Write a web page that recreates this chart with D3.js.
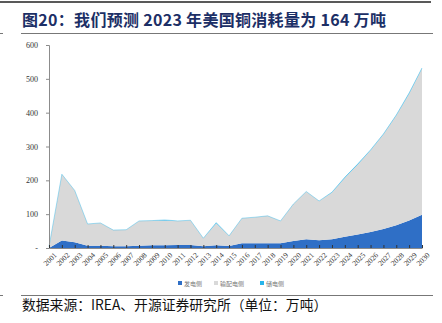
<!DOCTYPE html>
<html>
<head>
<meta charset="utf-8">
<script src="https://cdn.jsdelivr.net/npm/d3@7/dist/d3.min.js"></script>
<style>
  html, body { margin: 0; padding: 0; background: #fff; }
  svg { display: block; }
</style>
</head>
<body>
<svg id="chart" width="442" height="323"></svg>
<script>
// US copper consumption by segment (10k tonnes)
const years = d3.range(2001, 2031).map(String);
const generation = [0, 22, 17, 7, 7, 5, 5, 7, 8, 8, 9, 9, 5, 8, 6, 14, 14, 14, 14, 21, 26, 23, 26, 33, 40, 47, 56, 67, 81, 98];
const distribution = [4, 196, 153, 64, 67, 48, 49, 73, 73, 73, 71, 73, 24, 65, 30, 74, 77, 81, 66, 109, 141, 116, 138, 175, 207, 242, 280, 325, 376, 433];
const storage = [0, 0, 0, 0, 0, 0, 0, 0, 0, 2, 0, 0, 0, 2, 0, 0, 0, 0, 0, 0, 0, 0, 1, 1, 1, 1, 1, 1, 1, 1];
const seriesNames = ["发电侧", "输配电侧", "储电侧"];
const seriesColors = ["#2f6fc6", "#d9d9d9", "#27b4ea"];
const yTicks = [0, 100, 200, 300, 400, 500, 600];
const titleText = "图20：我们预测 2023 年美国铜消耗量为 164 万吨";
const sourceText = "数据来源：IREA、开源证券研究所（单位：万吨）";

const svg = d3.select("#chart");
const serif = "'Liberation Serif', 'DejaVu Serif', serif";
const cjk = "'Noto Sans CJK SC', sans-serif";

// header rules and title
svg.append("line").attr("x1", 0).attr("x2", 431).attr("y1", 2).attr("y2", 2)
  .attr("stroke", "#222").attr("stroke-width", 1.5);
svg.append("line").attr("x1", 21).attr("x2", 433).attr("y1", 33.5).attr("y2", 33.5)
  .attr("stroke", "#777").attr("stroke-width", 1);
svg.append("line").attr("x1", 0).attr("x2", 3).attr("y1", 33.5).attr("y2", 33.5)
  .attr("stroke", "#777").attr("stroke-width", 1);
svg.append("text").attr("x", 22).attr("y", 26)
  .attr("font-family", cjk).attr("font-weight", "bold").attr("font-size", 16)
  .attr("letter-spacing", 0.3)
  .attr("fill", "#1c2f66").text(titleText);

// footer rule and source
svg.append("line").attr("x1", 21).attr("x2", 433).attr("y1", 295.5).attr("y2", 295.5)
  .attr("stroke", "#777").attr("stroke-width", 1);
svg.append("line").attr("x1", 0).attr("x2", 3).attr("y1", 295.5).attr("y2", 295.5)
  .attr("stroke", "#777").attr("stroke-width", 1);
svg.append("text").attr("x", 22).attr("y", 310)
  .attr("font-family", cjk).attr("font-size", 13.8)
  .attr("fill", "#111").text(sourceText);

// plot area
const x = d3.scalePoint().domain(years).range([49, 422]);
const y = d3.scaleLinear().domain([0, 600]).range([248, 45]);

const rows = years.map((yr, i) => ({ year: yr, g: generation[i], d: distribution[i], s: storage[i] }));
const stack = d3.stack().keys(["g", "d", "s"]);
const layers = stack(rows);

const area = d3.area()
  .x(d => x(d.data.year))
  .y0(d => y(d[0]))
  .y1(d => y(d[1]));

svg.append("g").selectAll("path").data(layers).join("path")
  .attr("d", area)
  .attr("fill", (d, i) => seriesColors[i]);

// storage outline on the top edge
const topLine = d3.line().x(d => x(d.data.year)).y(d => y(d[1]));
svg.append("path").datum(layers[2]).attr("d", topLine)
  .attr("fill", "none").attr("stroke", seriesColors[2]).attr("stroke-width", 0.6)
  .attr("stroke-opacity", 0.7);

// y axis
const yAxis = d3.axisLeft(y).tickValues(yTicks).tickSize(3).tickPadding(8)
  .tickFormat(v => v === 0 ? "-" : String(v));
const gy = svg.append("g").attr("transform", "translate(49,0)").call(yAxis);
gy.select(".domain").attr("stroke", "#8c8c8c");
gy.selectAll(".tick line").attr("stroke", "#8c8c8c");
gy.selectAll(".tick text").attr("font-family", serif).attr("font-size", 8).attr("fill", "#333");

// x axis
const xAxis = d3.axisBottom(x).tickSize(-3).tickSizeOuter(0).tickPadding(4);
const gx = svg.append("g").attr("transform", "translate(0,248)").call(xAxis);
gx.select(".domain").attr("stroke", "#8c8c8c");
gx.selectAll(".tick line").attr("stroke", "#333");
gx.selectAll(".tick text")
  .attr("font-family", serif).attr("font-size", 7.5).attr("fill", "#333")
  .attr("text-anchor", "end")
  .attr("transform", "translate(3,3) rotate(-45)")
  .attr("dy", "0.35em");

// legend
const legendX = [178, 214, 260];
const lg = svg.append("g").selectAll("g").data(seriesNames).join("g")
  .attr("transform", (d, i) => `translate(${legendX[i]},284)`);
lg.append("rect").attr("x", 0).attr("y", -3).attr("width", 4).attr("height", 4)
  .attr("fill", (d, i) => seriesColors[i]);
lg.append("text").attr("x", 6).attr("y", 1.5)
  .attr("font-family", cjk).attr("font-size", 6).attr("fill", "#777")
  .text(d => d);
</script>
</body>
</html>
